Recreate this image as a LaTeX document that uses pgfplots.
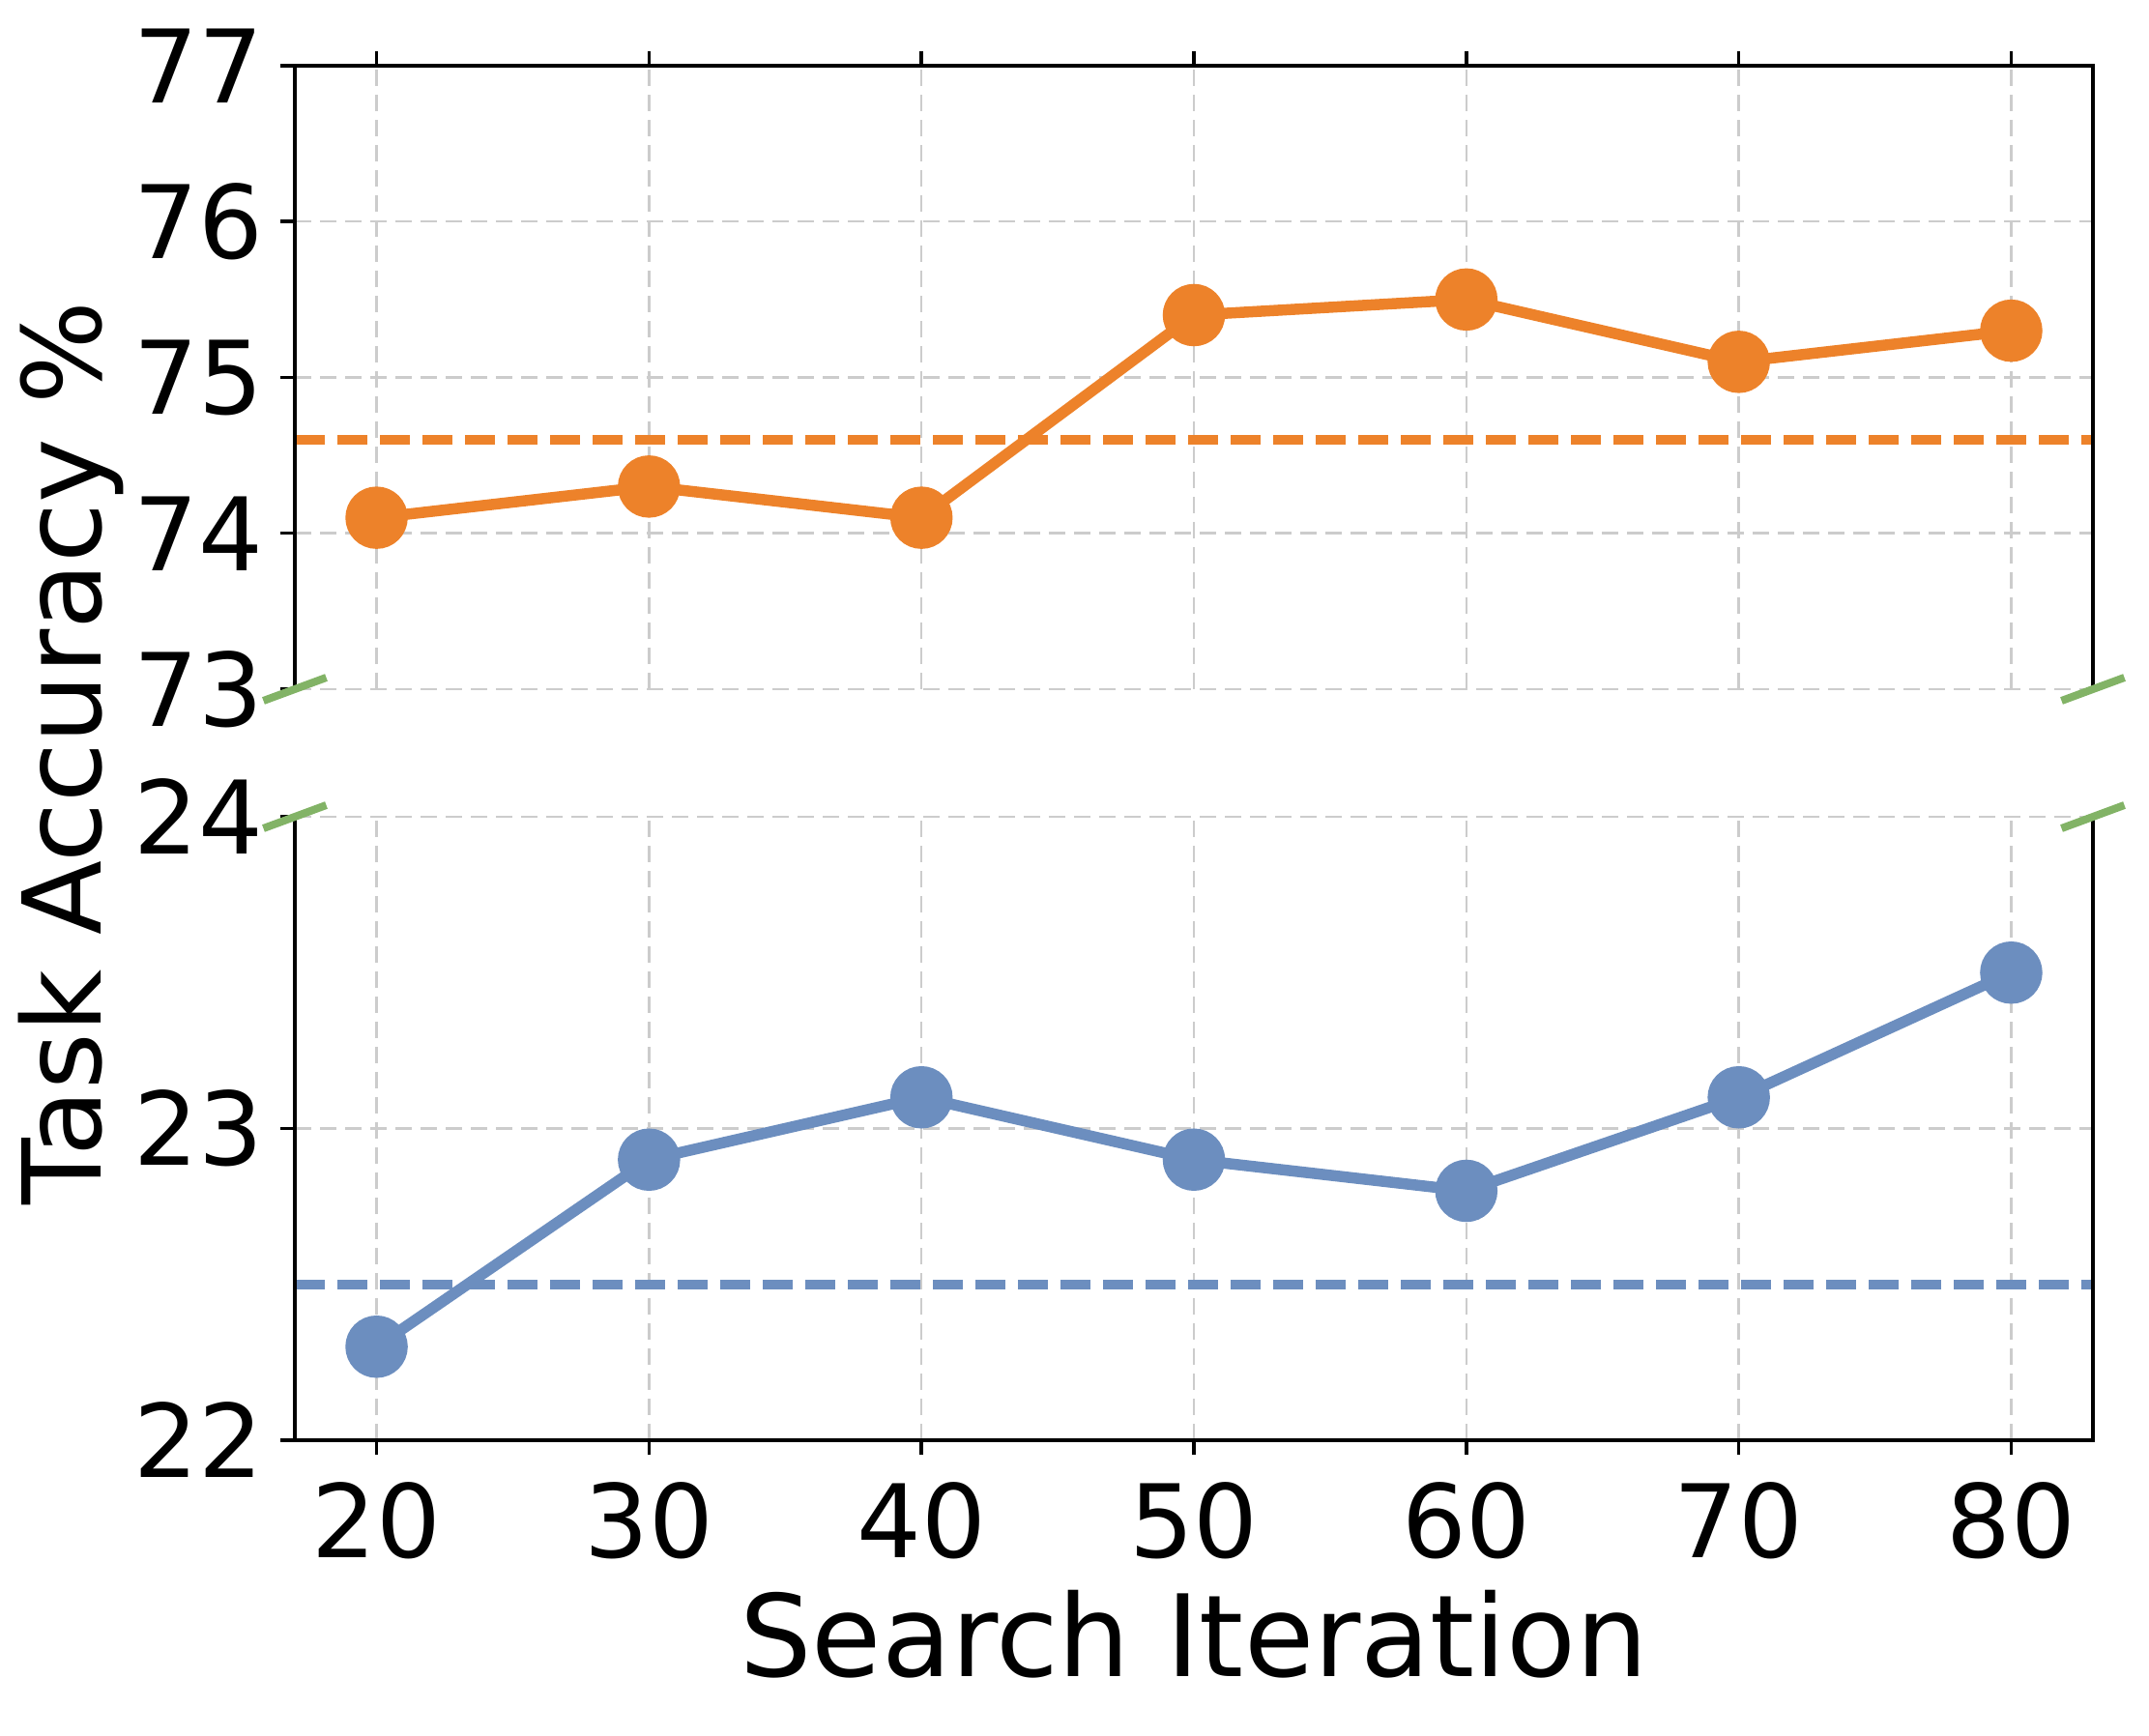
\documentclass[border=0pt]{standalone}
\usepackage{fontspec}
\setmainfont{DejaVu Sans}
\usepackage{pgfplots}
\pgfplotsset{compat=1.18}
\usetikzlibrary{calc}

\definecolor{cOrange}{HTML}{ED822A}
\definecolor{cBlue}{HTML}{6C8EBF}
\definecolor{cGreen}{HTML}{82B366}
\definecolor{cGrid}{HTML}{CCCCCC}

\pgfplotsset{
  brk/.style={
    width=372pt, height=129pt, scale only axis,
    xmin=17, xmax=83, xtick={20,30,...,80},
    grid=major,
    major grid style={cGrid, line width=0.5pt, dash pattern=on 3.4pt off 1.8pt},
    tick align=outside, major tick length=3pt,
    tick style={black, line width=0.7pt},
    axis line style={draw=none},
    ytick pos=left,
    /pgf/number format/assume math mode=true,
    tick label style={font=\fontsize{21}{21}\selectfont},
  },
  orangeln/.style={cOrange, line width=2.3pt, mark=*, mark size=5.3pt, mark options={solid, fill=cOrange, draw=cOrange}},
  blueln/.style={cBlue, line width=2.3pt, mark=*, mark size=5.3pt, mark options={solid, fill=cBlue, draw=cBlue}},
}

\begin{document}
\begin{tikzpicture}
% upper part, 73..77
\begin{axis}[brk, name=top,
    ymin=73, ymax=77, ytick={73,74,75,76,77},
    xtick pos=right, xticklabels={},
    after end axis/.code={
      \draw[line width=0.7pt] (rel axis cs:0,0) -- (rel axis cs:0,1) -- (rel axis cs:1,1) -- (rel axis cs:1,0);
    }]
\addplot[cOrange, line width=2pt, dash pattern=on 6.2pt off 2.6pt] coordinates {(17,74.6) (83,74.6)};
\addplot[orangeln] coordinates {
    (20,74.1) (30,74.3) (40,74.1) (50,75.4) (60,75.5) (70,75.1) (80,75.3)
};
\end{axis}

% lower part, 22..24
\begin{axis}[brk, name=bot,
    at={($(top.south west)+(0,-26.4pt)$)}, anchor=north west,
    ymin=22, ymax=24, ytick={22,23,24},
    xtick pos=left,
    xticklabel style={anchor=base, yshift=-21.4pt},
    after end axis/.code={
      \draw[line width=0.7pt] (rel axis cs:0,1) -- (rel axis cs:0,0) -- (rel axis cs:1,0) -- (rel axis cs:1,1);
    }]
\addplot[cBlue, line width=2pt, dash pattern=on 6.2pt off 2.6pt] coordinates {(17,22.5) (83,22.5)};
\addplot[blueln] coordinates {
    (20,22.3) (30,22.9) (40,23.1) (50,22.9) (60,22.8) (70,23.1) (80,23.5)
};
\end{axis}

% break marks
\foreach \a in {top.south west, top.south east, bot.north west, bot.north east}
  \draw[cGreen, line width=1.6pt] ($(\a)+(-6.5pt,-2.4pt)$) -- ($(\a)+(6.5pt,2.4pt)$);

\node[rotate=90, anchor=base, font=\fontsize{22.5}{22.5}\selectfont]
  at ($(top.south west)!0.5!(bot.north west)+(-40pt,0)$) {Task Accuracy \%};
\node[anchor=base, font=\fontsize{23.5}{23.5}\selectfont]
  at ($(bot.south)+(0,-48.8pt)$) {Search Iteration};

\path ($(top.north west)+(-61pt,13.6pt)$) rectangle ($(bot.south east)+(11.6pt,-61.2pt)$);
\end{tikzpicture}
\end{document}
